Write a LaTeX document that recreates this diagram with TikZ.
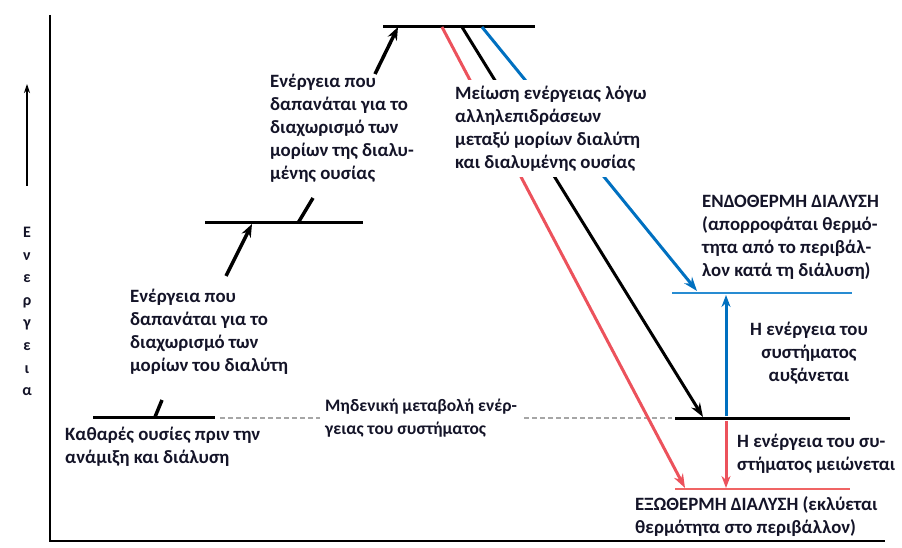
\documentclass[tikz,border=0pt]{standalone}
\usepackage{fontspec}
\setmainfont{Carlito}
\usetikzlibrary{arrows.meta}
\definecolor{myred}{RGB}{236,82,92}
\definecolor{myblue}{RGB}{0,112,192}
\definecolor{lvlblue}{RGB}{40,140,210}
\definecolor{lvlred}{RGB}{240,100,100}
\definecolor{txt}{RGB}{20,20,40}
\tikzset{
  lbl/.style={inner sep=0pt, align=left, anchor=north west, text=txt, font=\fontsize{18.8}{23}\selectfont\bfseries},
  level/.style={line width=3pt, black},
  bigarrow/.style={line width=3.5pt, -{Stealth[length=13pt,width=10pt]}},
  stub/.style={line width=3.5pt},
  diag/.style={line width=3pt, -{Stealth[length=14pt,width=10pt]}},
  zero/.style={line width=2pt, gray!70, dash pattern=on 5pt off 3pt}
}
\begin{document}
\begin{tikzpicture}[x=1pt,y=-1pt]
\useasboundingbox (0,0) rectangle (902,548);
% axes
\draw[line width=2.5pt] (50,15) -- (50,541) -- (885,541);
\coordinate (ea) at (27,186);
\coordinate (eb) at (27,84);
\draw[line width=1.2pt, -{Stealth[length=9pt,width=6pt]}] (ea) -- (eb);
\node[inner sep=0pt, align=center, anchor=north, font=\fontsize{16}{22.6}\selectfont\bfseries, text=txt] (axislbl) at (27,227) {Ε\\ν\\ε\\ρ\\γ\\ε\\ι\\α};
% levels
\draw[level] (93,417) coordinate (l1a) -- (215,417) coordinate (l1b);
\draw[level] (205,223) coordinate (l2a) -- (363,223) coordinate (l2b);
\draw[level] (383,27) coordinate (l3a) -- (535,27) coordinate (l3b);
\draw[level] (675,418) coordinate (l4a) -- (850,418) coordinate (l4b);
\draw[line width=2.2pt, lvlblue] (672,293) coordinate (lba) -- (852,293) coordinate (lbb);
\draw[line width=2.2pt, lvlred] (675,489) coordinate (lra) -- (850,489) coordinate (lrb);
% zero change dashed
\draw[zero] (220,418) -- (320,418);
\draw[zero] (524,418) -- (672,418);
% arrows level1->level2 (interrupted)
\coordinate (s1a) at (155,417);
\coordinate (s1b) at (162,400);
\coordinate (a1a) at (226,276);
\coordinate (a1b) at (252,224);
\draw[stub] (s1a) -- (s1b);
\draw[bigarrow] (a1a) -- (a1b);
% arrows level2->level3
\coordinate (s2a) at (298,223);
\coordinate (s2b) at (313,198);
\coordinate (a2a) at (375,74);
\coordinate (a2b) at (398,27);
\draw[stub] (s2a) -- (s2b);
\draw[bigarrow] (a2a) -- (a2b);
% diagonal arrows
\coordinate (dr0) at (442,27);
\coordinate (dr1) at (685,488);
\coordinate (dk0) at (462,27);
\coordinate (dk1) at (703,417);
\coordinate (db0) at (482,27);
\coordinate (db1) at (697,291);
\draw[diag, myred] (dr0) -- (dr1);
\draw[diag, black] (dk0) -- (dk1);
\draw[diag, myblue] (db0) -- (db1);
% vertical arrows
\coordinate (vb0) at (726,416);
\coordinate (vb1) at (726,295);
\coordinate (vr0) at (726,421);
\coordinate (vr1) at (726,488);
\draw[line width=3pt, myblue, -{Stealth[length=12pt,width=9pt]}] (vb0) -- (vb1);
\draw[line width=3pt, myred, -{Stealth[length=12pt,width=9pt]}] (vr0) -- (vr1);
% texts
\node[lbl] (ta) at (270,74) {Ενέργεια που\\δαπανάται για το\\διαχωρισμό των\\μορίων της διαλυ-\\μένης ουσίας};
\node[lbl, fill=white, inner xsep=3pt, inner ysep=0pt, minimum height=97pt, anchor=north west] (tb) at (452,80) {Μείωση ενέργειας λόγω\\αλληλεπιδράσεων\\μεταξύ μορίων διαλύτη\\και διαλυμένης ουσίας};
\node[lbl] (tc) at (130,289) {Ενέργεια που\\δαπανάται για το\\διαχωρισμό των\\μορίων του διαλύτη};
\node[lbl] (td) at (65,427) {Καθαρές ουσίες πριν την\\ανάμιξη και διάλυση};
\node[lbl, font=\fontsize{17.5}{23}\selectfont\bfseries] (te) at (325,399) {Μηδενική μεταβολή ενέρ-\\γειας του συστήματος};
\node[lbl] (tf) at (702,195) {ΕΝΔΟΘΕΡΜΗ ΔΙΑΛΥΣΗ\\(απορροφάται θερμό-\\τητα από το περιβάλ-\\λον κατά τη διάλυση)};
\node[lbl, align=center, anchor=north] (tg) at (809,322) {Η ενέργεια του\\συστήματος\\αυξάνεται};
\node[lbl] (th) at (737,434) {Η ενέργεια του συ-\\στήματος μειώνεται};
\node[lbl] (ti) at (635,496) {ΕΞΩΘΕΡΜΗ ΔΙΑΛΥΣΗ (εκλύεται\\θερμότητα στο περιβάλλον)};
\end{tikzpicture}
\end{document}
